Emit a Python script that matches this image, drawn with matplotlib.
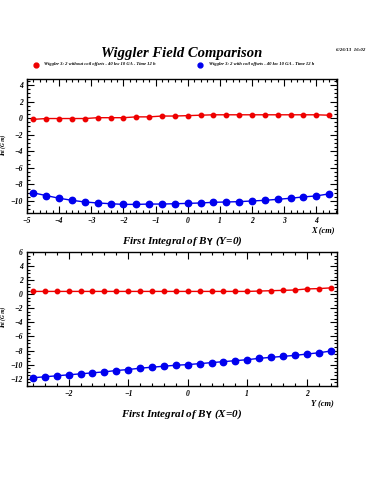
import numpy as np
import matplotlib
matplotlib.use("Agg")
import matplotlib.pyplot as plt
from matplotlib.ticker import MultipleLocator

# top panel: first integral vs X (Y=0)
x_top = np.arange(-4.8, 4.41, 0.4)
red_top = [-0.15, -0.05, -0.05, -0.05, -0.05, 0.05, 0.05, 0.05, 0.15, 0.15, 0.25, 0.25,
           0.3, 0.35, 0.4, 0.4, 0.4, 0.4, 0.4, 0.4, 0.4, 0.4, 0.4, 0.35]
blue_top = [-9.02, -9.35, -9.67, -9.92, -10.12, -10.24, -10.33, -10.41, -10.41, -10.37,
            -10.37, -10.33, -10.29, -10.24, -10.16, -10.12, -10.08, -10.0, -9.92, -9.8,
            -9.67, -9.51, -9.39, -9.14]

# bottom panel: first integral vs Y (X=0)
y_bot = np.arange(-2.6, 2.41, 0.2)
red_bot = [0.4] * 19 + [0.45, 0.5, 0.55, 0.6, 0.75, 0.8, 0.9]
blue_bot = [-11.87, -11.73, -11.59, -11.45, -11.31, -11.17, -11.03, -10.84, -10.70, -10.51,
            -10.37, -10.23, -10.09, -10.0, -9.86, -9.72, -9.58, -9.44, -9.30, -9.11,
            -8.97, -8.83, -8.69, -8.50, -8.32, -8.08]

legend_red = "Wiggler 3: 2 without coil offsets - 40 kw 10 GA - Time 12 h"
legend_blue = "Wiggler 3: 2 with coil offsets - 40 kw 10 GA - Time 12 h"

serif = "Liberation Serif"

fig = plt.figure(figsize=(3.75, 5), dpi=100)
fig.patch.set_facecolor("white")

ax1 = fig.add_axes([0.072, 0.574, 0.827, 0.268])
ax2 = fig.add_axes([0.072, 0.228, 0.827, 0.268])


def style(ax, xmaj, xmin, ymaj, ymin):
    ax.xaxis.set_major_locator(MultipleLocator(xmaj))
    ax.xaxis.set_minor_locator(MultipleLocator(xmin))
    ax.yaxis.set_major_locator(MultipleLocator(ymaj))
    ax.yaxis.set_minor_locator(MultipleLocator(ymin))
    ax.tick_params(which="both", direction="in", top=True, right=True, width=0.8)
    ax.tick_params(which="major", length=5, pad=3)
    ax.tick_params(which="minor", length=2.5)
    for s in ax.spines.values():
        s.set_linewidth(1.0)
    for lab in ax.get_xticklabels() + ax.get_yticklabels():
        lab.set_fontfamily(serif)
        lab.set_fontweight("bold")
        lab.set_fontstyle("italic")
        lab.set_fontsize(5.5)


ax1.plot(x_top, red_top, "-o", color="#ee0000", ms=3.2, lw=1)
ax1.plot(x_top, blue_top, "-o", color="#0000ee", ms=4.6, lw=1)
ax1.set_xlim(-5, 4.65)
ax1.set_ylim(-11.45, 4.72)
style(ax1, 1, 0.2, 2, 0.5)

ax2.plot(y_bot, red_bot, "-o", color="#ee0000", ms=3.2, lw=1)
ax2.plot(y_bot, blue_bot, "-o", color="#0000ee", ms=4.6, lw=1)
ax2.set_xlim(-2.7, 2.51)
ax2.set_ylim(-13.04, 6.0)
style(ax2, 1, 0.2, 2, 0.5)

fig.text(0.485, 0.894, "Wiggler Field Comparison", ha="center", va="center",
         family=serif, weight="bold", style="italic", size=10.5)
fig.text(0.935, 0.9, "6/26/13  16:02", ha="center", va="center",
         family=serif, weight="bold", style="italic", size=3.5)

fig.lines.append(plt.Line2D([0.096], [0.871], marker="o", color="#ee0000", ms=3.5,
                            transform=fig.transFigure, figure=fig))
fig.lines.append(plt.Line2D([0.533], [0.871], marker="o", color="#0000ee", ms=3.5,
                            transform=fig.transFigure, figure=fig))
fig.text(0.118, 0.871, legend_red, ha="left", va="center",
         family=serif, weight="bold", style="italic", size=3.3)
fig.text(0.557, 0.871, legend_blue, ha="left", va="center",
         family=serif, weight="bold", style="italic", size=3.3)

fig.text(0.86, 0.54, "X (cm)", ha="center", va="center",
         family=serif, weight="bold", style="italic", size=6)
fig.text(0.485, 0.518, "First Integral of B$_\\mathbf{Y}$ (Y=0)", ha="center", va="center",
         family=serif, weight="bold", style="italic", size=8)
fig.text(0.86, 0.194, "Y (cm)", ha="center", va="center",
         family=serif, weight="bold", style="italic", size=6)
fig.text(0.485, 0.172, "First Integral of B$_\\mathbf{Y}$ (X=0)", ha="center", va="center",
         family=serif, weight="bold", style="italic", size=8)

# y titles hug the left edge
fig.text(0.001, 0.71, "Int (G m)", rotation=90, ha="left", va="center",
         family=serif, weight="bold", style="italic", size=4)
fig.text(0.001, 0.365, "Int (G m)", rotation=90, ha="left", va="center",
         family=serif, weight="bold", style="italic", size=4)

fig.savefig("out.png", dpi=100)
